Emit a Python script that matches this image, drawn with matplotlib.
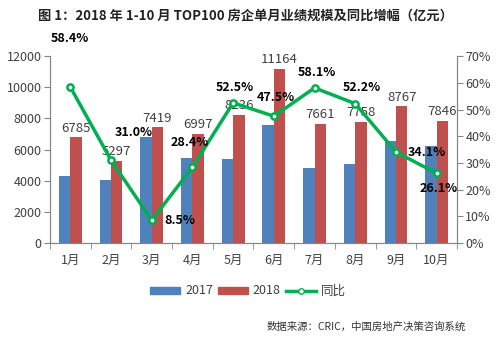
import numpy as np
import matplotlib
matplotlib.use("Agg")
import matplotlib.pyplot as plt
from matplotlib.lines import Line2D
from matplotlib.patches import Patch

plt.rcParams['font.family'] = ['Noto Sans CJK SC', 'DejaVu Sans']

# ── Data ──────────────────────────────────────────────────────────────────────
months = ["1月", "2月", "3月", "4月", "5月", "6月", "7月", "8月", "9月", "10月"]
sales_2017 = [4283, 4043, 6838, 5449, 5401, 7569, 4846, 5097, 6538, 6222]
sales_2018 = [6785, 5297, 7419, 6997, 8236, 11164, 7661, 7758, 8767, 7846]
yoy = [58.4, 31.0, 8.5, 28.4, 52.5, 47.5, 58.1, 52.2, 34.1, 26.1]
# label offsets for the growth labels (pixels)
yoy_offsets = [(0, 49), (23, 28), (28, 0), (-3, 25), (2, 15),
               (2, 19), (2, 15), (7, 16), (31, -1), (2, -15)]

BLUE = "#4F81BD"
RED = "#C0504D"
GREEN = "#00B050"
AXIS = "#868686"
TXT = "#404040"

fig = plt.figure(figsize=(5, 3.38), dpi=100)
ax = fig.add_axes([0.1, 0.281, 0.814, 0.553])
ax2 = ax.twinx()

x = np.arange(len(months))
w = 0.28
ax.bar(x - w / 2, sales_2017, width=w, color=BLUE, zorder=2)
ax.bar(x + w / 2, sales_2018, width=w, color=RED, zorder=2)
for i, v in enumerate(sales_2018):
    ax.annotate(str(v), (x[i] + w / 2, v), xytext=(0, 2), textcoords="offset points",
                ha="center", va="bottom", fontsize=9.5, color=TXT)

ax2.plot(x, yoy, color=GREEN, linewidth=2.5, marker="o", markersize=4.5,
         markerfacecolor="white", markeredgecolor=GREEN, markeredgewidth=1.8, zorder=5)
for i, v in enumerate(yoy):
    dx, dy = yoy_offsets[i]
    ax2.annotate(f"{v:.1f}%", (x[i], v), xytext=(dx, dy), textcoords="offset pixels",
                 ha="center", va="center", fontsize=9, fontweight="bold", color="black",
                 zorder=6)

ax.set_xlim(-0.5, len(months) - 0.5)
ax.set_ylim(0, 12000)
ax.set_yticks(range(0, 12001, 2000))
ax2.set_ylim(0, 70)
ax2.set_yticks(range(0, 71, 10))
ax2.set_yticklabels([f"{t}%" for t in range(0, 71, 10)])

ax.set_xticks(x)
ax.set_xticklabels(months)
ax.set_xticks(np.arange(-0.5, len(months)), minor=True)
ax.tick_params(axis="x", which="major", length=0, pad=8, labelsize=9, colors=TXT)
ax.tick_params(axis="x", which="minor", length=4, color=AXIS)
ax.tick_params(axis="y", length=4, color=AXIS, labelsize=9, labelcolor=TXT, pad=2)
ax2.tick_params(axis="y", length=4, color=AXIS, labelsize=9, labelcolor=TXT, pad=2)

for a in (ax, ax2):
    a.spines["top"].set_visible(False)
    for s in ("left", "right", "bottom"):
        a.spines[s].set_color(AXIS)

fig.text(0.49, 0.953, "图 1：2018 年 1-10 月 TOP100 房企单月业绩规模及同比增幅（亿元）",
         ha="center", va="center", fontsize=9.5, fontweight="bold", color="#222222")

handles = [Patch(color=BLUE, label="2017"), Patch(color=RED, label="2018"),
           Line2D([0], [0], color=GREEN, linewidth=2.5, marker="o", markersize=4,
                  markerfacecolor="white", markeredgecolor=GREEN, label="同比")]
fig.legend(handles=handles, loc="center", bbox_to_anchor=(0.496, 1 - 291 / 338), ncol=3,
           frameon=False, fontsize=9, handlelength=2.4, handleheight=0.5,
           columnspacing=0.4, handletextpad=0.4, labelcolor=TXT)

fig.text(0.932, 1 - 327 / 338, "数据来源：CRIC，中国房地产决策咨询系统",
         ha="right", va="center", fontsize=7.5, color="#333333")

fig.savefig("out.png", dpi=100)
